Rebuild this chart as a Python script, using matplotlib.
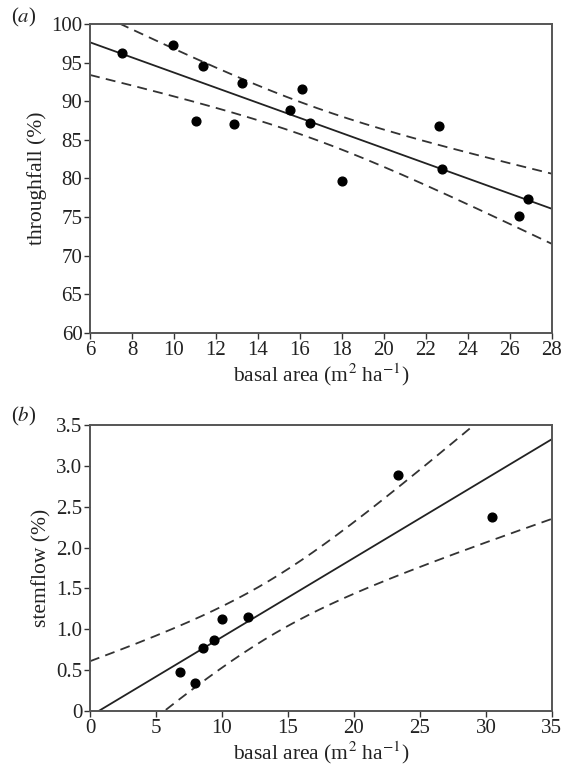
import matplotlib
matplotlib.use("Agg")
import matplotlib.pyplot as plt
import numpy as np

plt.rcParams['font.family'] = ['Liberation Serif', 'DejaVu Serif']
plt.rcParams['mathtext.fontset'] = 'stix'

# (a) throughfall vs basal area
ba_a = np.array([7.52, 9.97, 11.39, 11.05, 12.85, 13.24, 15.54, 16.12,
                 16.48, 18.02, 22.61, 22.78, 26.43, 26.87])
throughfall = np.array([96.3, 97.3, 94.5, 87.5, 87.0, 92.4, 88.9, 91.6,
                        87.2, 79.7, 86.8, 81.2, 75.1, 77.4])

# (b) stemflow vs basal area
ba_b = np.array([6.84, 7.98, 8.58, 9.40, 10.02, 11.99, 23.37, 30.48])
stemflow = np.array([0.479, 0.348, 0.770, 0.872, 1.130, 1.146, 2.894, 2.378])

# two-sided 95% t values for n-2 degrees of freedom
t95 = {12: 2.179, 6: 2.447}


def fit_with_ci(x, y, xs):
    n = len(x)
    slope, icpt = np.polyfit(x, y, 1)
    resid = y - (icpt + slope * x)
    s = np.sqrt(np.sum(resid**2) / (n - 2))
    sxx = np.sum((x - x.mean())**2)
    yhat = icpt + slope * xs
    half = t95[n - 2] * s * np.sqrt(1.0 / n + (xs - x.mean())**2 / sxx)
    return yhat, yhat - half, yhat + half


def style_axes(ax):
    for sp in ax.spines.values():
        sp.set_color('#555555')
        sp.set_linewidth(1.4)
    ax.tick_params(direction='out', length=4, width=1, color='#333333',
                   labelsize=15, labelcolor='#222222', pad=1.5)


def draw_panel(ax, x, y, lims):
    xs = np.linspace(lims[0], lims[1], 300)
    yh, lo, hi = fit_with_ci(x, y, xs)
    ax.plot(xs, yh, color='#222222', lw=1.3)
    ax.plot(xs, lo, color='#333333', lw=1.3, dashes=(5.5, 3.5))
    ax.plot(xs, hi, color='#333333', lw=1.3, dashes=(5.5, 3.5))
    ax.plot(x, y, 'o', color='black', ms=6.3)
    ax.set_xlim(*lims)


lab = dict(fontsize=15.5, color='#222222')
fig = plt.figure(figsize=(5.64, 7.74), dpi=100)

ax1 = fig.add_axes([0.1596, 0.5698, 0.819, 0.3992])
draw_panel(ax1, ba_a, throughfall, (6, 28))
ax1.set_ylim(60, 100)
ax1.set_xticks(np.arange(6, 29, 2))
ax1.set_yticks(np.arange(60, 101, 5))
ax1.set_xlabel(r'basal area (m$^2$ ha$^{-1}$)', labelpad=1, **lab)
ax1.set_ylabel('throughfall (%)', labelpad=3, **lab)
style_axes(ax1)

ax2 = fig.add_axes([0.1596, 0.0814, 0.819, 0.3695])
draw_panel(ax2, ba_b, stemflow, (0, 35))
ax2.set_ylim(0, 3.5)
ax2.set_xticks(np.arange(0, 36, 5))
yt = np.arange(0, 3.51, 0.5)
ax2.set_yticks(yt)
ax2.set_yticklabels(['0'] + ['%.1f' % v for v in yt[1:]])
ax2.set_xlabel(r'basal area (m$^2$ ha$^{-1}$)', labelpad=1, **lab)
ax2.set_ylabel('stemflow (%)', labelpad=3, **lab)
style_axes(ax2)

fig.text(0.02, 0.977, r'($\it{a}$)', fontsize=15, color='#222222', va='center')
fig.text(0.02, 0.462, r'($\it{b}$)', fontsize=15, color='#222222', va='center')

fig.savefig('out.png', dpi=100)
